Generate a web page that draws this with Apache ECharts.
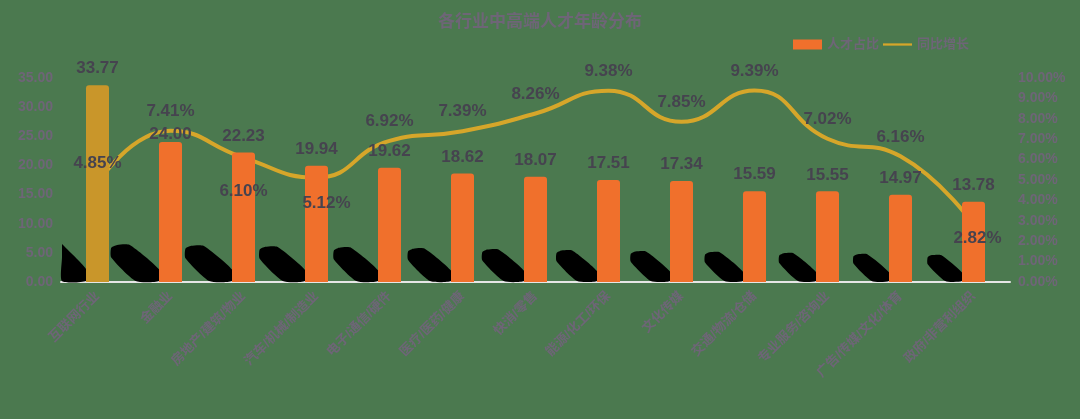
<!DOCTYPE html>
<html>
<head>
<meta charset="utf-8">
<script src="https://cdn.jsdelivr.net/npm/echarts@6/dist/echarts.min.js"></script>
<style>
html,body{margin:0;padding:0;background:#4b794f;}
#main{width:1080px;height:419px;}
</style>
</head>
<body>
<div id="main"></div>
<script>
const title = '各行业中高端人才年龄分布';
const seriesNames = ['人才占比', '同比增长'];
const categories = ['互联网行业', '金融业', '房地产/建筑/物业', '汽车/机械/制造业', '电子/通信/硬件', '医疗/医药/健康', '快消/零售', '能源/化工/环保', '文化传媒', '交通/物流/仓储', '专业服务/咨询业', '广告/传媒/文化/体育', '政府/非营利组织'];
const barValues = [33.77, 24.00, 22.23, 19.94, 19.62, 18.62, 18.07, 17.51, 17.34, 15.59, 15.55, 14.97, 13.78];
const lineValues = [4.85, 7.41, 6.10, 5.12, 6.92, 7.39, 8.26, 9.38, 7.85, 9.39, 7.02, 6.16, 2.82];

const FONT = "'Liberation Sans', 'Noto Sans CJK SC', sans-serif";
const TXT = '#46434f';
const AX = '#6e6577';
const ORANGE = '#f0702c';
const GOLD = '#c9962a';
const LINE = '#d6a62a';

const chart = echarts.init(document.getElementById('main'));

const barData = barValues.map((v, i) => {
  const d = { value: v };
  if (i === 0) d.itemStyle = { color: GOLD };
  if (i === 1) d.label = { distance: -1 };
  return d;
});

const lineLabelData = lineValues.map((v, i) => {
  const d = { value: v };
  if (i === 2) d.label = { position: 'bottom', distance: 25 };
  if (i === 3) d.label = { position: 'bottom', distance: 17, offset: [10, 0] };
  if (i === 12) d.label = { position: 'bottom', distance: 5, offset: [4, 0] };
  return d;
});

chart.setOption({
  backgroundColor: '#4b794f',
  animation: false,
  textStyle: { fontFamily: FONT },
  title: {
    text: title, left: 'center', top: 9,
    textStyle: { color: AX, fontSize: 17, fontWeight: 'bold', fontFamily: FONT }
  },
  legend: {
    left: 788, top: 33, itemWidth: 29, itemHeight: 10, itemGap: 4,
    textStyle: { color: AX, fontSize: 13, fontWeight: 'bold', fontFamily: FONT },
    data: [
      { name: seriesNames[0], icon: 'rect', itemStyle: { color: ORANGE } },
      { name: seriesNames[1], icon: 'path://M0,4 L32,4 L32,6.5 L0,6.5 Z', itemStyle: { color: LINE } }
    ]
  },
  grid: { left: 61, right: 70, top: 78, bottom: 137 },
  xAxis: {
    type: 'category', data: categories,
    axisLine: { lineStyle: { color: '#e6e6e6', width: 2 } },
    axisTick: { show: false },
    axisLabel: { rotate: 45, interval: 0, margin: 12, color: AX, fontSize: 13, fontWeight: 'bold', fontFamily: FONT }
  },
  yAxis: [
    {
      type: 'value', min: 0, max: 35, interval: 5,
      axisLine: { show: false }, axisTick: { show: false }, splitLine: { show: false },
      axisLabel: { color: AX, fontSize: 14, fontWeight: 'bold', margin: 8, formatter: v => v.toFixed(2) }
    },
    {
      type: 'value', min: 0, max: 10, interval: 1,
      axisLine: { show: false }, axisTick: { show: false }, splitLine: { show: false },
      axisLabel: { color: AX, fontSize: 14, fontWeight: 'bold', margin: 8, formatter: v => v.toFixed(2) + '%' }
    }
  ],
  series: [
    {
      type: 'custom', z: 1, silent: true,
      data: categories.map((c, i) => [i]),
      encode: { x: 0 },
      renderItem: function (params, api) {
        const idx = api.value(0);
        const p = api.coord([idx, 0]);
        const s = 1 - idx * 0.025;
        const L = p[0] - 11.5;
        const y0 = p[1] - 1;
        const minX = params.coordSys.x;
        const pts = [
          [L - 49 * s, y0 - 34 * s],
          [L - 43 * s, y0 - 37 * s],
          [L - 30 * s, y0 - 37 * s],
          [L, y0 - 12 * s],
          [L, y0],
          [L - 24 * s, y0],
          [L - 49 * s, y0 - 24 * s]
        ].map(q => [Math.max(q[0], minX + 1), q[1]]);
        return { type: 'polygon', shape: { points: pts, smooth: 0.2 }, style: { fill: '#000' } };
      }
    },
    {
      name: seriesNames[1], type: 'line', yAxisIndex: 1, z: 2,
      data: lineValues, smooth: 0.5, symbol: 'none',
      lineStyle: { color: LINE, width: 4 }, itemStyle: { color: LINE }
    },
    {
      name: seriesNames[0], type: 'bar', z: 3, barWidth: 23,
      data: barData,
      itemStyle: { color: ORANGE, borderRadius: [3, 3, 0, 0] },
      label: {
        show: true, position: 'top', distance: 8, color: TXT, fontSize: 17, fontWeight: 'bold', fontFamily: FONT,
        formatter: p => p.value.toFixed(2)
      }
    },
    {
      name: 'lbl', type: 'line', yAxisIndex: 1, z: 10, silent: true,
      data: lineLabelData, symbol: 'circle', symbolSize: 0,
      lineStyle: { opacity: 0 }, itemStyle: { color: 'rgba(0,0,0,0)' },
      label: {
        show: true, position: 'top', distance: 11, color: TXT, fontSize: 17, fontWeight: 'bold', fontFamily: FONT,
        formatter: p => p.value.toFixed(2) + '%'
      }
    }
  ]
});
</script>
</body>
</html>
